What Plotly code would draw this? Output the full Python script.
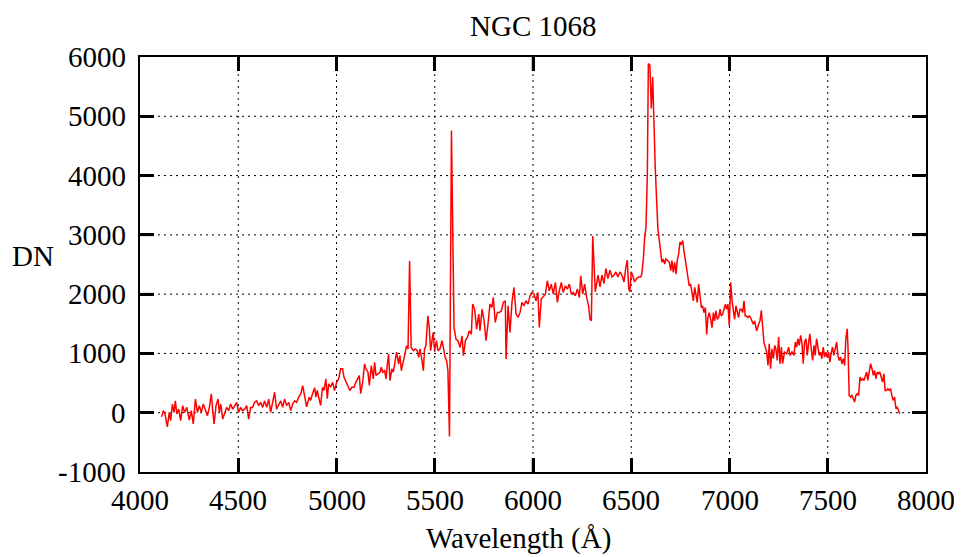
import plotly.graph_objects as go

wavelength = [
    4110, 4119, 4127, 4139, 4149, 4156, 4165, 4173, 4180, 4187, 4197, 4207, 4217, 4227, 4238,
    4251, 4261, 4271, 4282, 4292, 4302, 4312, 4322, 4333, 4343, 4353, 4363, 4370, 4377, 4387,
    4397, 4404, 4411, 4421, 4431, 4441, 4451, 4461, 4472, 4482, 4492, 4502, 4512, 4522, 4533,
    4543, 4553, 4563, 4573, 4583, 4594, 4604, 4614, 4624, 4634, 4645, 4655, 4665, 4675, 4685,
    4695, 4706, 4716, 4726, 4736, 4746, 4757, 4767, 4777, 4787, 4797, 4807, 4818, 4828, 4838,
    4848,
    4861, 4868, 4878, 4889, 4895, 4902, 4909, 4919, 4929, 4936, 4946, 4953, 4960, 4970, 4980,
    4990, 5001, 5011, 5021, 5031, 5038, 5048, 5058, 5068, 5079, 5089, 5099, 5109, 5116, 5123,
    5133, 5143, 5150, 5160, 5167, 5177, 5187, 5194, 5201, 5211, 5221, 5228, 5235, 5245, 5252,
    5258, 5265, 5272, 5282, 5289, 5299, 5306, 5316, 5323, 5330, 5340, 5350, 5357, 5364, 5372,
    5380, 5391, 5401, 5411, 5418, 5425, 5435, 5442, 5448, 5455, 5465, 5472, 5479, 5486, 5492,
    5499, 5509, 5516, 5526, 5537, 5547, 5553, 5560, 5567, 5575, 5585,
    5598, 5608, 5618, 5629, 5639, 5646, 5656, 5666, 5676, 5686, 5693, 5703, 5713, 5724, 5730,
    5741, 5751, 5761, 5771, 5781, 5791, 5798, 5808, 5819, 5829, 5839, 5849, 5859, 5863, 5873,
    5883, 5893, 5903, 5914, 5924, 5934, 5944, 5954, 5964, 5975, 5985, 5995, 6005, 6015, 6025,
    6032, 6042, 6053, 6063, 6073, 6083, 6093, 6103, 6114, 6124, 6134, 6144, 6154, 6165, 6175,
    6185, 6195, 6205, 6215, 6226, 6236, 6243, 6253, 6263, 6273, 6283, 6290, 6297,
    6304, 6317, 6331, 6341, 6351, 6361, 6371, 6381, 6392, 6402, 6412, 6422, 6432, 6442, 6453,
    6463, 6473, 6480, 6487, 6493, 6500, 6507, 6517, 6527, 6537, 6548, 6554, 6561, 6568, 6575,
    6582, 6587, 6595, 6602, 6609, 6615, 6622, 6629, 6636,
    6643, 6650, 6656, 6663, 6670, 6677, 6687, 6694, 6701, 6707, 6714, 6721, 6728, 6734, 6741,
    6748, 6755, 6762, 6768, 6775, 6782, 6789, 6795, 6802, 6809, 6816, 6823, 6829, 6836, 6843,
    6850, 6857, 6863, 6870, 6877, 6884, 6890, 6897, 6904, 6911, 6918, 6924, 6931, 6938, 6945,
    6952, 6958, 6965, 6972, 6979, 6985, 6992, 6999, 7006, 7013, 7019, 7026, 7033, 7040, 7046,
    7053, 7060, 7067, 7074, 7080, 7087, 7094, 7101, 7107, 7114, 7121, 7128, 7138, 7148, 7155,
    7162, 7168, 7175, 7182, 7189, 7196, 7202, 7209, 7216, 7223, 7230, 7236, 7243, 7250, 7257,
    7264, 7270, 7280, 7291, 7301, 7308, 7318, 7328, 7335, 7342, 7348, 7355, 7362, 7369, 7375,
    7382, 7389, 7396, 7403, 7409, 7416, 7423, 7430, 7436, 7443, 7450, 7457, 7464, 7470, 7477,
    7484, 7490, 7497, 7504, 7511, 7518, 7524, 7531, 7538, 7545, 7552, 7558, 7565, 7572, 7579,
    7586, 7592, 7599, 7603, 7609, 7616, 7623, 7630, 7637, 7643, 7650, 7657, 7664, 7670, 7677,
    7684, 7691, 7698, 7704, 7711, 7718, 7725, 7732, 7738, 7745, 7752, 7759, 7765, 7772, 7779,
    7786, 7792, 7799, 7806, 7813, 7820, 7826, 7833, 7840, 7847, 7853, 7860, 7867,
]

dn = [
    -70, 35, -20, -240, 5, -135, 146, 5, 200, -20, 60, -135, 120, 5, 90,
    -125, 35, -190, 230, 5, 120, 5, 146, 60, -50, 90, 316, 35, -190, 120,
    230, 5, 146, -107, -20, 90, 35, 146, 60, 120, 175, 5, 90, 35, 60,
    120, -107, 90, 90, 175, 200, 120, 175, 90, 200, 90, 230, 5, 175, 345,
    60, 146, 200, 90, 230, 120, 175, 35, 146, 200, 175, 260, 316, 458, 290,
    100,
    263, 207, 320, 420, 263, 375, 263, 123, 430, 375, 570, 235, 487, 430, 515,
    375, 515, 570, 740, 740, 600, 515, 460, 375, 430, 430, 515, 570, 627, 320,
    515, 823, 740, 683, 460, 795, 570, 850, 627, 655, 683, 767, 683, 710, 570,
    795, 990, 543, 740, 683, 935, 1020, 823, 963, 710, 880, 1047, 1131, 1075, 2560,
    1100, 1047, 1075, 1047, 935, 1075, 880, 710, 1075, 1131, 1635, 1440, 1047, 1243, 1355,
    1047, 1215, 1047, 1075, 1215, 1020, 935, 880, 710, -400, 4760,
    1440, 1242, 1214, 1100, 1298, 961, 1214, 1270, 1382, 1326, 1832, 1748, 1410, 1663, 1382,
    1748, 1551, 1214, 1495, 1832, 1776, 1944, 1523, 1692, 1692, 1720, 1860, 1888, 905, 1804,
    1354, 1860, 2113, 1663, 1607, 1692, 1860, 1804, 1888, 1832, 1972, 2029, 2000, 1888, 2029,
    1438, 1916, 1972, 2000, 2226, 2057, 2169, 2000, 2197, 1860, 2057, 2197, 2029, 2141, 2085,
    2169, 2000, 2029, 1972, 2085, 1944, 2310, 2000, 2169, 1944, 1804, 1579, 1551,
    2980, 2040, 2319, 2122, 2319, 2178, 2431, 2263, 2403, 2290, 2319, 2375, 2290, 2375, 2319,
    2206, 2459, 2572, 2094, 2040, 2375, 2319, 2206, 2263, 2290, 2290, 2347, 2572, 2937, 3134,
    4035, 5888, 5860, 5130, 5664, 4878, 4150, 3590, 3084,
    2904, 2678, 2537, 2593, 2509, 2593, 2565, 2537, 2396, 2565, 2367, 2537, 2339, 2565, 2678,
    2876, 2848, 2904, 2735, 2565, 2424, 2254, 2141, 2170, 2028, 1887, 2113, 1972, 1859, 2170,
    1915, 1774, 1802, 1689, 1774, 1322, 1605, 1689, 1576, 1435, 1689, 1548, 1717, 1576, 1605,
    1746, 1633, 1661, 1746, 1831, 1746, 1831, 1463, 2198, 1887, 1746, 1576, 1802, 1689, 1605,
    1746, 1746, 1689, 1887, 1633, 1633, 1605, 1633, 1605, 1548, 1492, 1548, 1379, 1492, 1548,
    1725, 1500, 1191, 1107, 1023, 798, 1163, 742, 1079, 910, 1135, 1079, 882, 1276, 826,
    1107, 826, 1023, 995, 1107, 967, 1023, 967, 1191, 1107, 1248, 1135, 1304, 1163, 826,
    1191, 1248, 967, 1191, 1332, 1079, 882, 1135, 967, 1248, 1079, 967, 1023, 910, 1107,
    939, 1023, 939, 1023, 854, 1023, 1107, 967, 1079, 1191, 967, 882, 939, 826, 910,
    798, 1248, 1416, 1107, 292, 264, 292, 236, 180, 292, 320, 292, 601, 545, 573,
    545, 629, 686, 545, 686, 826, 742, 629, 714, 573, 686, 658, 686, 573, 517,
    658, 376, 376, 405, 376, 405, 292, 208, 264, 67, 96, 39, -17,
]

title_text = "NGC 1068"
x_label = "Wavelength (Å)"
y_label = "DN"
x_ticks = [4000, 4500, 5000, 5500, 6000, 6500, 7000, 7500, 8000]
y_ticks = [-1000, 0, 1000, 2000, 3000, 4000, 5000, 6000]

FONT = "Liberation Serif, Times New Roman, serif"
FS = 29

# figure sits at an 8px page offset, so it is sized 8px smaller
W, H = 954, 549
L, R, T, B = 132, 36, 49, 85
PW, PH = W - L - R, H - T - B
TICK = 14

fig = go.Figure()
fig.add_trace(go.Scatter(
    x=wavelength, y=dn, mode="lines",
    line=dict(color="#ff0000", width=1.5),
    showlegend=False, hoverinfo="x+y",
))

axis_common = dict(
    showline=True, linecolor="black", linewidth=2, mirror="ticks",
    ticks="inside", ticklen=TICK, tickwidth=2.5, tickcolor="black",
    showgrid=False, zeroline=False, showticklabels=False,
)

fig.update_xaxes(range=[4000, 8000], tickvals=x_ticks, **axis_common)
fig.update_yaxes(range=[-1000, 6000], tickvals=y_ticks, **axis_common)

shapes = []
grid_line = dict(color="black", width=1, dash="2px,4px")
tick_line = dict(color="black", width=2.5)
for xv in x_ticks[1:-1]:
    shapes.append(dict(type="line", xref="x", yref="paper", x0=xv, x1=xv, y0=0, y1=1,
                       line=grid_line, layer="below"))
    shapes.append(dict(type="line", xref="x", yref="paper", x0=xv, x1=xv,
                       y0=0, y1=TICK / PH, line=tick_line, layer="above"))
    shapes.append(dict(type="line", xref="x", yref="paper", x0=xv, x1=xv,
                       y0=1, y1=1 - TICK / PH, line=tick_line, layer="above"))
for yv in y_ticks[1:-1]:
    shapes.append(dict(type="line", xref="paper", yref="y", x0=0, x1=1, y0=yv, y1=yv,
                       line=grid_line, layer="below"))
    shapes.append(dict(type="line", xref="paper", yref="y", x0=0, x1=TICK / PW,
                       y0=yv, y1=yv, line=tick_line, layer="above"))
    shapes.append(dict(type="line", xref="paper", yref="y", x0=1, x1=1 - TICK / PW,
                       y0=yv, y1=yv, line=tick_line, layer="above"))

tfont = dict(family=FONT, size=FS, color="black")
annotations = []
for xv in x_ticks:
    annotations.append(dict(text=str(xv), xref="x", yref="paper", x=xv, y=-28 / PH,
                            xanchor="center", yanchor="middle", showarrow=False, font=tfont))
for yv in y_ticks:
    annotations.append(dict(text=str(yv), xref="paper", yref="y", x=-12 / PW, y=yv,
                            xanchor="right", yanchor="middle", showarrow=False, font=tfont))
annotations += [
    dict(text=title_text, xref="paper", yref="paper", x=0.5, y=1 + T / PH,
         xanchor="center", yanchor="top", showarrow=False, font=tfont),
    dict(text=x_label, xref="paper", yref="paper", x=0.481, y=-0.16,
         xanchor="center", yanchor="middle", showarrow=False, font=tfont),
    dict(text=y_label, xref="paper", yref="paper", x=-0.136, y=0.52,
         xanchor="center", yanchor="middle", showarrow=False, font=tfont),
]

fig.update_layout(
    width=W, height=H,
    margin=dict(l=L, r=R, t=T, b=B),
    paper_bgcolor="white", plot_bgcolor="white",
    shapes=shapes,
    annotations=annotations,
)

fig.write_html("out.html")
